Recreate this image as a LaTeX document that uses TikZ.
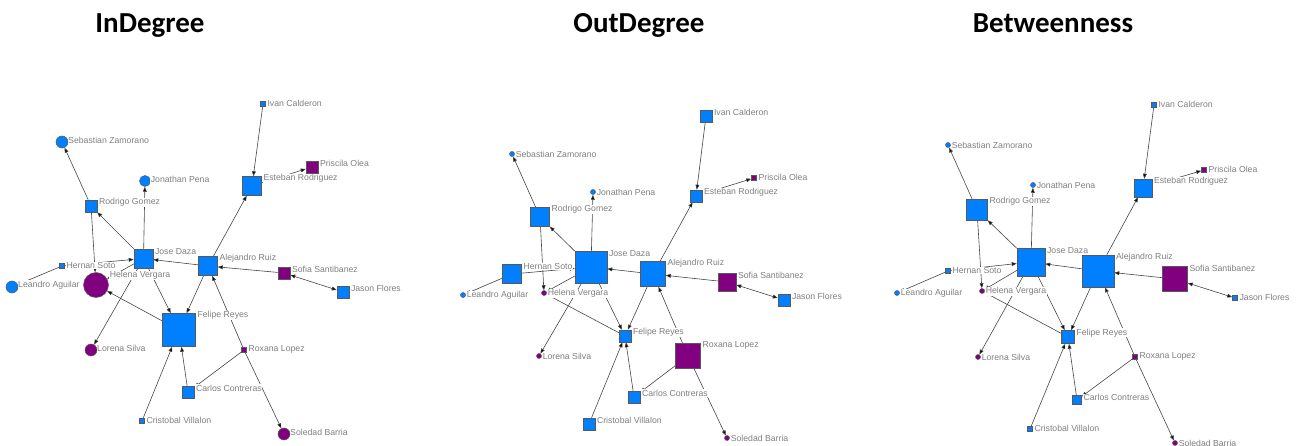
\documentclass[tikz,border=0pt]{standalone}
\usepackage{fontspec}
\setmainfont{Liberation Sans}
\newfontfamily\headfont{Carlito}
\usepackage{tikz}
\usetikzlibrary{arrows.meta,backgrounds}
\definecolor{netblue}{RGB}{0,128,255}
\definecolor{netpurple}{RGB}{128,0,128}
\definecolor{labelgray}{RGB}{128,128,128}
\definecolor{edgegray}{RGB}{70,70,70}

\begin{document}
\begin{tikzpicture}[
  x=1pt,y=-1pt,
  actor/.style={draw=black!65,line width=0.5pt,inner sep=0pt,minimum size=#1},
  bsq/.style={actor=#1,rectangle,fill=netblue},
  psq/.style={actor=#1,rectangle,fill=netpurple},
  bci/.style={actor=#1,circle,fill=netblue},
  pci/.style={actor=#1,circle,fill=netpurple},
  tag/.style={anchor=west,xshift=1pt,yshift=-2.5pt,inner sep=0.6pt,fill=white,text=labelgray,font=\fontsize{8.7}{9}\selectfont},
  head/.style={anchor=base,font=\headfont\fontsize{29}{30}\selectfont\bfseries},
  arr/.style={draw=edgegray,line width=0.6pt,-{Triangle[length=5pt,width=3.8pt]}},
  twoway/.style={draw=edgegray,line width=0.6pt,{Triangle[length=5pt,width=3.8pt]}-{Triangle[length=5pt,width=3.8pt]}}
]
\useasboundingbox (0,0) rectangle (1300,446);

\node[head] (t-in) at (150,33) {InDegree};
\node[head] (t-out) at (639,33) {OutDegree};
\node[head] (t-bet) at (1053,33) {Betweenness};

% InDegree
\node[bci=12pt,label={[tag]north east:Sebastian Zamorano}] (i-seb) at (62,142) {};
\node[bci=11pt,label={[tag]north east:Jonathan Pena}] (i-jon) at (145,181) {};
\node[bsq=12pt,label={[tag]north east:Rodrigo Gomez}] (i-rod) at (91,206) {};
\node[bsq=19pt,label={[tag]north east:Jose Daza}] (i-jos) at (143.5,258.5) {};
\node[bsq=19pt,label={[tag]north east:Alejandro Ruiz}] (i-ale) at (208,266) {};
\node[bsq=5pt,label={[tag]north east:Hernan Soto}] (i-her) at (62,266) {};
\node[pci=25pt,label={[tag,xshift=3pt,yshift=3pt]north east:Helena Vergara}] (i-hel) at (96,285) {};
\node[bci=12pt,label={[tag]north east:Leandro Aguilar}] (i-lea) at (12,287) {};
\node[bsq=33pt,label={[tag]north east:Felipe Reyes}] (i-fel) at (179,330) {};
\node[pci=12pt,label={[tag]north east:Lorena Silva}] (i-lor) at (91,350) {};
\node[psq=5pt,label={[tag]north east:Roxana Lopez}] (i-rox) at (244,350) {};
\node[bsq=12pt,label={[tag]north east:Carlos Contreras}] (i-car) at (188,392) {};
\node[bsq=5pt,label={[tag]north east:Cristobal Villalon}] (i-cri) at (142,421) {};
\node[pci=12pt,label={[tag]north east:Soledad Barria}] (i-sol) at (284,434) {};
\node[psq=12pt,label={[tag]north east:Sofia Santibanez}] (i-sof) at (284,273) {};
\node[bsq=12pt,label={[tag]north east:Jason Flores}] (i-jas) at (343,292) {};
\node[bsq=19pt,label={[tag]north east:Esteban Rodriguez}] (i-est) at (252,186) {};
\node[psq=12pt,label={[tag]north east:Priscila Olea}] (i-pri) at (312,167) {};
\node[bsq=5pt,label={[tag]north east:Ivan Calderon}] (i-iva) at (263,104) {};

% OutDegree
\node[bci=5pt,label={[tag]north east:Sebastian Zamorano}] (o-seb) at (512,154) {};
\node[bci=5pt,label={[tag]north east:Jonathan Pena}] (o-jon) at (593,192) {};
\node[bsq=19pt,label={[tag]north east:Rodrigo Gomez}] (o-rod) at (540,217) {};
\node[bsq=32pt,label={[tag]north east:Jose Daza}] (o-jos) at (591,267) {};
\node[bsq=25pt,label={[tag]north east:Alejandro Ruiz}] (o-ale) at (653,274) {};
\node[bsq=19pt,label={[tag]north east:Hernan Soto}] (o-her) at (512,274) {};
\node[pci=5pt,label={[tag]north east:Helena Vergara}] (o-hel) at (544,293) {};
\node[bci=5pt,label={[tag]north east:Leandro Aguilar}] (o-lea) at (463,295) {};
\node[bsq=12pt,label={[tag]north east:Felipe Reyes}] (o-fel) at (625,336) {};
\node[pci=5pt,label={[tag]north east:Lorena Silva}] (o-lor) at (539,356) {};
\node[psq=25pt,label={[tag]north east:Roxana Lopez}] (o-rox) at (688,356) {};
\node[bsq=12pt,label={[tag]north east:Carlos Contreras}] (o-car) at (634,397) {};
\node[bsq=12pt,label={[tag]north east:Cristobal Villalon}] (o-cri) at (589,424) {};
\node[pci=5pt,label={[tag]north east:Soledad Barria}] (o-sol) at (727,438) {};
\node[psq=18pt,label={[tag]north east:Sofia Santibanez}] (o-sof) at (727,282) {};
\node[bsq=12pt,label={[tag]north east:Jason Flores}] (o-jas) at (784,300) {};
\node[bsq=12pt,label={[tag]north east:Esteban Rodriguez}] (o-est) at (696,196) {};
\node[psq=5pt,label={[tag]north east:Priscila Olea}] (o-pri) at (754,178) {};
\node[bsq=12pt,label={[tag]north east:Ivan Calderon}] (o-iva) at (706,116) {};

% Betweenness
\node[bci=5pt,label={[tag]north east:Sebastian Zamorano}] (b-seb) at (948,145) {};
\node[bci=5pt,label={[tag]north east:Jonathan Pena}] (b-jon) at (1033,185) {};
\node[bsq=21pt,label={[tag]north east:Rodrigo Gomez}] (b-rod) at (977,210) {};
\node[bsq=28pt,label={[tag]north east:Jose Daza}] (b-jos) at (1031,262) {};
\node[bsq=32pt,label={[tag]north east:Alejandro Ruiz}] (b-ale) at (1098,271) {};
\node[bsq=5pt,label={[tag]north east:Hernan Soto}] (b-her) at (948,271) {};
\node[pci=5pt,label={[tag]north east:Helena Vergara}] (b-hel) at (982,291) {};
\node[bci=5pt,label={[tag]north east:Leandro Aguilar}] (b-lea) at (897,293) {};
\node[bsq=13pt,label={[tag]north east:Felipe Reyes}] (b-fel) at (1068,337) {};
\node[pci=5pt,label={[tag]north east:Lorena Silva}] (b-lor) at (978,357) {};
\node[psq=5pt,label={[tag]north east:Roxana Lopez}] (b-rox) at (1135,357) {};
\node[bsq=9pt,label={[tag]north east:Carlos Contreras}] (b-car) at (1077,400) {};
\node[bsq=5pt,label={[tag]north east:Cristobal Villalon}] (b-cri) at (1030,429) {};
\node[pci=5pt,label={[tag]north east:Soledad Barria}] (b-sol) at (1175,443) {};
\node[psq=25pt,label={[tag]north east:Sofia Santibanez}] (b-sof) at (1175,279) {};
\node[bsq=5pt,label={[tag]north east:Jason Flores}] (b-jas) at (1235,298) {};
\node[bsq=18pt,label={[tag]north east:Esteban Rodriguez}] (b-est) at (1143,188) {};
\node[psq=5pt,label={[tag]north east:Priscila Olea}] (b-pri) at (1204,170) {};
\node[bsq=5pt,label={[tag]north east:Ivan Calderon}] (b-iva) at (1154,105) {};

\begin{scope}[on background layer]
\foreach \p in {i,o,b}{
  \path[arr] (\p-rod) edge (\p-seb) (\p-jos) edge (\p-jon) (\p-jos) edge (\p-rod)
    (\p-rod) edge (\p-hel) (\p-her) edge (\p-jos) (\p-her) edge (\p-lea)
    (\p-jos) edge (\p-hel) (\p-fel) edge (\p-hel) (\p-jos) edge (\p-fel)
    (\p-jos) edge (\p-lor) (\p-ale) edge (\p-jos) (\p-ale) edge (\p-fel)
    (\p-ale) edge (\p-est) (\p-iva) edge (\p-est) (\p-est) edge (\p-pri)
    (\p-sof) edge (\p-ale) (\p-rox) edge (\p-ale) (\p-rox) edge (\p-sol)
    (\p-rox) edge (\p-car) (\p-car) edge (\p-fel) (\p-cri) edge (\p-fel);
  \path[twoway] (\p-sof) edge (\p-jas);
}
\end{scope}
\end{tikzpicture}
\end{document}
